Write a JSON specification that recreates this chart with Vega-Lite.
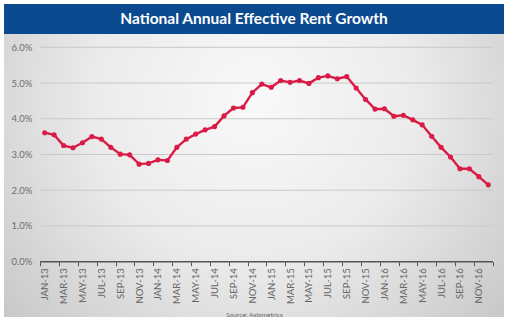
{
  "$schema": "https://vega.github.io/schema/vega-lite/v6.json",
  "padding": {"left": 4, "top": 4, "right": 7, "bottom": 6},
  "background": "white",
  "spacing": 0,
  "config": {"axis": {"labelOverlap": false, "labelFlush": false, "labelBound": false}},
  "datasets": {
    "rent": [
      {"i": 0, "month": "JAN-13", "growth": 3.61},
      {"i": 1, "month": "FEB-13", "growth": 3.55},
      {"i": 2, "month": "MAR-13", "growth": 3.25},
      {"i": 3, "month": "APR-13", "growth": 3.19},
      {"i": 4, "month": "MAY-13", "growth": 3.33},
      {"i": 5, "month": "JUN-13", "growth": 3.50},
      {"i": 6, "month": "JUL-13", "growth": 3.43},
      {"i": 7, "month": "AUG-13", "growth": 3.20},
      {"i": 8, "month": "SEP-13", "growth": 3.01},
      {"i": 9, "month": "OCT-13", "growth": 2.99},
      {"i": 10, "month": "NOV-13", "growth": 2.73},
      {"i": 11, "month": "DEC-13", "growth": 2.75},
      {"i": 12, "month": "JAN-14", "growth": 2.85},
      {"i": 13, "month": "FEB-14", "growth": 2.83},
      {"i": 14, "month": "MAR-14", "growth": 3.20},
      {"i": 15, "month": "APR-14", "growth": 3.43},
      {"i": 16, "month": "MAY-14", "growth": 3.57},
      {"i": 17, "month": "JUN-14", "growth": 3.69},
      {"i": 18, "month": "JUL-14", "growth": 3.78},
      {"i": 19, "month": "AUG-14", "growth": 4.08},
      {"i": 20, "month": "SEP-14", "growth": 4.30},
      {"i": 21, "month": "OCT-14", "growth": 4.32},
      {"i": 22, "month": "NOV-14", "growth": 4.73},
      {"i": 23, "month": "DEC-14", "growth": 4.97},
      {"i": 24, "month": "JAN-15", "growth": 4.88},
      {"i": 25, "month": "FEB-15", "growth": 5.07},
      {"i": 26, "month": "MAR-15", "growth": 5.02},
      {"i": 27, "month": "APR-15", "growth": 5.07},
      {"i": 28, "month": "MAY-15", "growth": 4.99},
      {"i": 29, "month": "JUN-15", "growth": 5.15},
      {"i": 30, "month": "JUL-15", "growth": 5.20},
      {"i": 31, "month": "AUG-15", "growth": 5.12},
      {"i": 32, "month": "SEP-15", "growth": 5.18},
      {"i": 33, "month": "OCT-15", "growth": 4.86},
      {"i": 34, "month": "NOV-15", "growth": 4.54},
      {"i": 35, "month": "DEC-15", "growth": 4.27},
      {"i": 36, "month": "JAN-16", "growth": 4.28},
      {"i": 37, "month": "FEB-16", "growth": 4.07},
      {"i": 38, "month": "MAR-16", "growth": 4.10},
      {"i": 39, "month": "APR-16", "growth": 3.97},
      {"i": 40, "month": "MAY-16", "growth": 3.83},
      {"i": 41, "month": "JUN-16", "growth": 3.51},
      {"i": 42, "month": "JUL-16", "growth": 3.20},
      {"i": 43, "month": "AUG-16", "growth": 2.93},
      {"i": 44, "month": "SEP-16", "growth": 2.60},
      {"i": 45, "month": "OCT-16", "growth": 2.60},
      {"i": 46, "month": "NOV-16", "growth": 2.38},
      {"i": 47, "month": "DEC-16", "growth": 2.15}
    ],
    "grid": [{"g": 1}, {"g": 2}, {"g": 3}, {"g": 4}, {"g": 5}, {"g": 6}],
    "base": [{"g": 0}]
  },
  "vconcat": [
    {
      "width": 500,
      "height": 30,
      "view": {"fill": "#0b4a8e", "stroke": null},
      "data": {"values": [{"t": "National Annual Effective Rent Growth"}]},
      "mark": {"type": "text", "color": "white", "font": "Lato", "fontSize": 15.5, "fontWeight": "bold", "baseline": "middle", "align": "center"},
      "encoding": {"text": {"field": "t"}}
    },
    {
      "width": 500,
      "height": 283,
      "view": {
        "stroke": null,
        "fill": {
          "gradient": "radial",
          "x1": 0.5, "y1": 0.35, "r1": 0,
          "x2": 0.5, "y2": 0.35, "r2": 0.72,
          "stops": [
            {"offset": 0, "color": "#f9f9f9"},
            {"offset": 0.45, "color": "#ebebeb"},
            {"offset": 1, "color": "#c2c2c2"}
          ]
        }
      },
      "layer": [
        {
          "data": {"name": "grid"},
          "mark": {"type": "rule", "color": "#c9c9c9", "strokeWidth": 1},
          "encoding": {
            "y": {"field": "g", "type": "quantitative", "scale": {"domain": [-1.548, 6.372], "nice": false, "zero": false}},
            "x": {"datum": -0.5, "type": "quantitative", "scale": {"domain": [-4.315, 48.666], "nice": false, "zero": false}},
            "x2": {"datum": 47.5}
          }
        },
        {
          "data": {"name": "base"},
          "mark": {"type": "rule", "color": "#555555", "strokeWidth": 1.5},
          "encoding": {
            "y": {"field": "g", "type": "quantitative", "scale": {"domain": [-1.548, 6.372], "nice": false, "zero": false}},
            "x": {"datum": -0.5, "type": "quantitative", "scale": {"domain": [-4.315, 48.666], "nice": false, "zero": false}},
            "x2": {"datum": 47.5}
          }
        },
        {
          "data": {"name": "rent"},
          "mark": {"type": "line", "color": "#d91b45", "strokeWidth": 2.4},
          "encoding": {
            "x": {
              "field": "i", "type": "quantitative",
              "scale": {"domain": [-4.315, 48.666], "nice": false, "zero": false},
              "axis": {
                "orient": "bottom",
                "offset": -55.3,
                "zindex": 1,
                "tickCount": 100,
                "values": [-0.5, 1.5, 3.5, 5.5, 7.5, 9.5, 11.5, 13.5, 15.5, 17.5, 19.5, 21.5, 23.5, 25.5, 27.5, 29.5, 31.5, 33.5, 35.5, 37.5, 39.5, 41.5, 43.5, 45.5, 47.5],
                "labelExpr": "datum.value > 47 ? '' : ['JAN','FEB','MAR','APR','MAY','JUN','JUL','AUG','SEP','OCT','NOV','DEC'][(datum.value + 0.5) % 12] + '-' + (13 + floor((datum.value + 0.5) / 12))",
                "labelAngle": 270,
                "labelAlign": "right",
                "labelBaseline": "middle",
                "labelOffset": 4.72,
                "labelPadding": 2,
                "labelFont": "Lato",
                "labelFontSize": 9.5,
                "labelColor": "#666666",
                "labelFlush": false,
                "labelOverlap": false,
                "labelBound": false,
                "domain": false,
                "grid": false,
                "ticks": true,
                "tickSize": 4,
                "tickColor": "#555555",
                "tickWidth": 1,
                "title": "Source: Axiometrics",
                "titleFont": "Lato",
                "titleFontSize": 6.5,
                "titleFontWeight": "normal",
                "titleColor": "#666666",
                "titlePadding": 8
              }
            },
            "y": {
              "field": "growth", "type": "quantitative",
              "scale": {"domain": [-1.548, 6.372], "nice": false, "zero": false},
              "axis": {
                "orient": "left",
                "offset": -36,
                "zindex": 1,
                "tickCount": 20,
                "values": [0, 1, 2, 3, 4, 5, 6],
                "labelExpr": "format(datum.value, '.1f') + '%'",
                "labelFont": "Lato",
                "labelFontSize": 9.5,
                "labelColor": "#6e6e6e",
                "labelPadding": 8,
                "ticks": false,
                "tickSize": 0,
                "domain": false,
                "grid": false,
                "title": null
              }
            }
          }
        },
        {
          "data": {"name": "rent"},
          "mark": {"type": "point", "filled": true, "opacity": 1, "color": "#d91b45", "size": 26},
          "encoding": {
            "x": {"field": "i", "type": "quantitative", "scale": {"domain": [-4.315, 48.666], "nice": false, "zero": false}},
            "y": {"field": "growth", "type": "quantitative", "scale": {"domain": [-1.548, 6.372], "nice": false, "zero": false}}
          }
        }
      ]
    }
  ]
}
